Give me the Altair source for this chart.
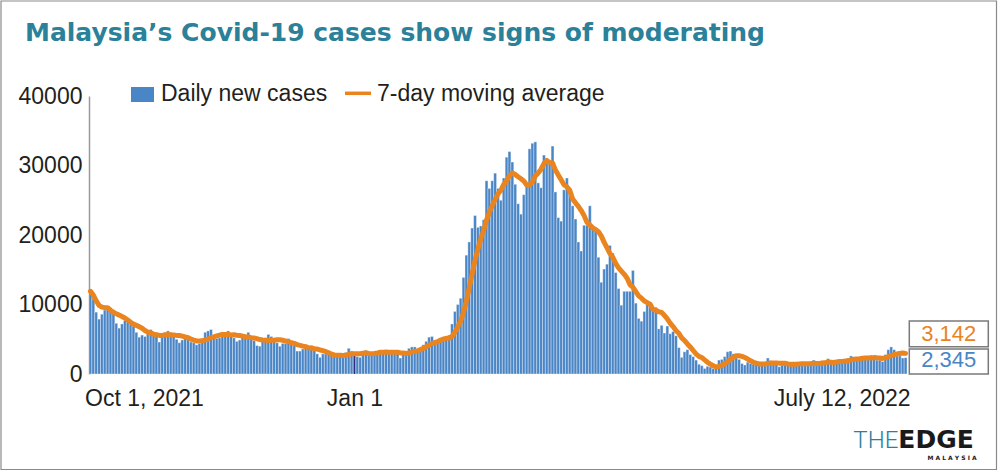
import altair as alt
import pandas as pd

# ---------------- data ----------------
start_date = "2021-10-01"
daily_cases = [
    11900, 10800, 8900, 7900, 8600, 9200, 9500, 9400, 8700, 7300,
    6600, 7200, 7700, 7500, 7100, 6900, 6000, 5300, 5600, 5400,
    5800, 6400, 5700, 5400, 4600, 5500, 6000, 6200, 6000, 5600,
    5000, 4500, 4900, 5100, 5500, 4600, 4500, 4200, 4400, 5100,
    6000, 6200, 6400, 5100, 5100, 5200, 5900, 6000, 6200, 5900,
    5200, 4700, 4900, 5300, 5300, 6000, 5200, 4800, 4100, 4000,
    4800, 5200, 5700, 5400, 4800, 4500, 4000, 4400, 4400, 5100,
    4300, 4100, 3300, 3300, 3600, 3800, 4000, 4100, 3400, 2900,
    2400, 2900, 2900, 2800, 2700, 2600, 2500, 2500, 2600, 3100,
    3700, 3300, 2800, 2500, 2400, 3200, 3400, 3100, 3000, 3000,
    3100, 3100, 3100, 3500, 3100, 3100, 3000, 3100, 2300, 3000,
    3000, 3700, 3900, 3900, 3500, 3600, 4200, 4700, 5300, 5400,
    4900, 4700, 4900, 5300, 5400, 5600, 7200, 9000, 10000, 10900,
    13900, 17100, 19000, 21000, 22800, 21100, 21300, 22200, 27800, 26700,
    27800, 28900, 26700, 25000, 28200, 31200, 32000, 30500, 27300, 24500,
    23000, 25800, 27200, 32400, 33200, 33400, 27500, 26800, 31500, 30300,
    30300, 32800, 26200, 22500, 22000, 26500, 28200, 26700, 24200, 22300,
    19000, 17700, 21400, 21400, 24200, 21200, 20700, 16800, 13200, 15100,
    15800, 18500, 17400, 14600, 12300, 9900, 11900, 11900, 11900, 14900,
    10200, 8000, 7600, 9000, 10300, 10300, 9400, 9600, 6500, 7000,
    5900, 6900, 5800, 6100, 5500, 3800, 2400, 3200, 3500, 2800,
    2500, 2000, 1400, 1200, 800, 1100, 1000, 800, 800, 2000,
    2100, 2500, 3200, 3300, 2900, 2300, 2100, 1500, 1300, 1700,
    1500, 1400, 1400, 1300, 1400, 1300, 2300, 1900, 1600, 1400,
    1050, 1300, 1300, 1500, 1700, 1600, 1400, 1400, 1450, 1400,
    1300, 1800, 2000, 1300, 1400, 1900, 1600, 2200, 1500, 1700,
    1800, 1900, 1900, 2000, 2300, 2600, 2300, 2200, 2100, 2300,
    2200, 2400, 2700, 2600, 2000, 2000, 1800, 2800, 3500, 3900,
    3500, 2600, 2600, 2300, 2345,
]
highlight_date = "2022-01-01"
tick_dates = ["2021-10-01", "2022-01-01", "2022-07-12"]
tick_labels = ["Oct 1, 2021", "Jan 1", "July 12, 2022"]
y_ticks = [0, 10000, 20000, 30000, 40000]
series_names = ["Daily new cases", "7-day moving average"]
latest_values = ["3,142", "2,345"]
title_text = "Malaysia\u2019s Covid-19 cases show signs of moderating"
logo_parts = ["THE", "EDGE", "M A L A Y S I A"]

# ---------------- styling ----------------
BLUE = "#4A85C6"
ORANGE = "#E9841F"
TEAL = "#2A8199"
DARK = "#231F20"
FONT = "Liberation Sans"

W, H = 818, 278
PAD = {"left": 89, "top": 96, "right": 91, "bottom": 98}

dates = pd.date_range(start_date, periods=len(daily_cases), freq="D")
df = pd.DataFrame({
    "date": dates,
    "next": dates + pd.Timedelta(days=1),
    "mid": dates + pd.Timedelta(hours=12),
    "day": dates.strftime("%Y-%m-%d"),
    "cases": daily_cases,
})


def dt(ts, hours=0):
    return alt.DateTime(year=ts.year, month=ts.month, date=ts.day, hours=hours)


x_domain = [dt(dates[0]), dt(dates[-1] + pd.Timedelta(days=1))]
tick_ts = [pd.Timestamp(d) for d in tick_dates]
tick_values = [dt(tick_ts[0], 0)] + [dt(t, 12) for t in tick_ts[1:]]

label_expr = f"'{tick_labels[-1]}'"
for d, l in reversed(list(zip(tick_dates[:-1], tick_labels[:-1]))):
    label_expr = f"timeFormat(datum.value, '%Y-%m-%d') == '{d}' ? '{l}' : ({label_expr})"

x_scale = alt.Scale(type="time", domain=x_domain, nice=False)
x_axis = alt.Axis(
    values=tick_values, labelExpr=label_expr, title=None, ticks=False,
    domain=False, grid=False, labelFlush=5, labelFlushOffset=4.5,
    labelFontSize=23, labelFont=FONT, labelColor=DARK, labelPadding=13,
    labelOverlap=False,
)
y_scale = alt.Scale(domain=[y_ticks[0], y_ticks[-1]], nice=False)
y_axis = alt.Axis(
    values=y_ticks, format="d", title=None, ticks=False, grid=False,
    domainColor="#9a9a9a", domainWidth=1.5, labelFontSize=23,
    labelFont=FONT, labelColor=DARK, labelPadding=7,
)

base = alt.Chart(df)

bars = base.mark_bar(color=BLUE, stroke="white", strokeWidth=0.45, strokeOpacity=0.8).encode(
    x=alt.X("date:T", scale=x_scale, axis=x_axis),
    x2="next:T",
    y=alt.Y("cases:Q", scale=y_scale, axis=y_axis),
    y2=alt.datum(0),
)

marker = base.transform_filter(f"datum.day == '{highlight_date}'").mark_rule(
    color="#2E2C7C", strokeWidth=1.2
).encode(
    x=alt.X("mid:T", scale=x_scale, axis=x_axis),
    y=alt.Y("cases:Q", scale=y_scale, axis=y_axis),
    y2=alt.datum(0),
)

line = base.transform_window(
    ma="mean(cases)", frame=[-6, 0], sort=[alt.SortField("date")]
).mark_line(color=ORANGE, strokeWidth=5, strokeCap="round", strokeJoin="round").encode(
    x=alt.X("mid:T", scale=x_scale, axis=x_axis),
    y=alt.Y("ma:Q", scale=y_scale, axis=y_axis),
)


def one(text):
    return alt.Chart(pd.DataFrame({"t": [text]}))


def text_at(text, x, y, **kw):
    return one(text).mark_text(**kw).encode(x=alt.value(x), y=alt.value(y), text="t:N")


def rect_at(x, x2, y, y2, **kw):
    return one("").mark_rect(**kw).encode(
        x=alt.value(x), x2=alt.value(x2), y=alt.value(y), y2=alt.value(y2)
    )


border = rect_at(-88, 907.5, -95, 373.5, fill=None, stroke="#8a8a8a", strokeWidth=1.2)

title = text_at(title_text, -64, -55, font="DejaVu Sans", fontSize=25,
                fontWeight="bold", color=TEAL, align="left", baseline="alphabetic")

leg_sq = rect_at(42, 65, -9, 6, fill=BLUE)
leg_txt1 = text_at(series_names[0], 72, 4.7, font=FONT, fontSize=23, color=DARK,
                   align="left", baseline="alphabetic")
leg_line = one("").mark_rule(color=ORANGE, strokeWidth=3.5).encode(
    x=alt.value(256), x2=alt.value(282), y=alt.value(-2.7)
)
leg_txt2 = text_at(series_names[1], 288, 4.7, font=FONT, fontSize=23, color=DARK,
                   align="left", baseline="alphabetic")

box1 = rect_at(820.3, 899.3, 225, 250.7, fill="white", stroke="#7a7a7a", strokeWidth=1.5)
box2 = rect_at(820.3, 899.3, 253, 278, fill="white", stroke="#7a7a7a", strokeWidth=1.5)
val1 = text_at(latest_values[0], 859.8, 244.7, font=FONT, fontSize=22, color=ORANGE,
               align="center", baseline="alphabetic")
val2 = text_at(latest_values[1], 859.8, 270.7, font=FONT, fontSize=22, color=BLUE,
               align="center", baseline="alphabetic")

logo1 = text_at(logo_parts[0], 809.3, 351.5, font="Roboto", fontSize=24, fontWeight=300,
                color=TEAL, align="right", baseline="alphabetic")
logo2 = text_at(logo_parts[1], 809.3, 351.5, font="DejaVu Sans", fontSize=25,
                fontWeight="bold", color="#1a1a1a", align="left", baseline="alphabetic")
logo3 = text_at(logo_parts[2], 863, 363.5, font="DejaVu Sans", fontSize=6,
                fontWeight="bold", color="#1a1a1a", align="center", baseline="alphabetic")

chart = alt.layer(
    border, bars, marker, line, title, leg_sq, leg_txt1, leg_line, leg_txt2,
    box1, box2, val1, val2, logo1, logo2, logo3,
).properties(
    width=W, height=H,
    autosize=alt.AutoSizeParams(type="none"),
    padding=PAD,
    background="white",
).configure_view(stroke=None)

chart.save("out.html", embed_options={"renderer": "svg", "actions": False})
